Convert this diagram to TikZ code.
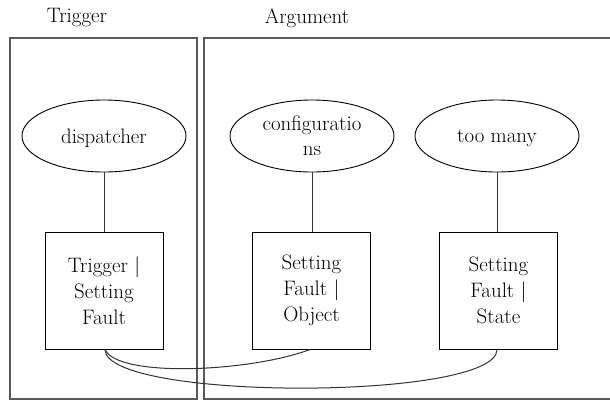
\documentclass[tikz,border=0pt]{standalone}
\usetikzlibrary{shapes.geometric}

\tikzset{
  frame/.style={draw=black!65, line width=1.6bp},
  term/.style={draw, ellipse, line width=0.9bp, inner sep=0pt,
    minimum width=164bp, minimum height=72bp, align=center,
    text depth=0pt, font=\fontsize{21}{25}\selectfont},
  slot/.style={draw, rectangle, line width=1bp, inner sep=0pt,
    minimum width=118bp, minimum height=117bp, align=center,
    font=\fontsize{21}{26}\selectfont},
  title/.style={font=\fontsize{21}{25}\selectfont, inner sep=0pt},
  link/.style={draw=black!80, line width=1bp}
}

\begin{document}
\begin{tikzpicture}[x=1bp, y=-1bp]
  \clip (0,0) rectangle (610,401);
  \fill[white] (0,0) rectangle (610,401);

  % column frames
  \draw[frame] (10,38) rectangle (197,399);
  \draw[frame] (204,38) rectangle (640,399);

  % column titles
  \node[title] (ttrig) at (77,18) {Trigger};
  \node[title] (targ)  at (307,18) {Argument};

  % phrases
  \node[term] (disp) at (104,136) {dispatcher};
  \node[term] (conf) at (312,136) {configuratio\\ns};
  \node[term] (many) at (497,136) {too many};

  % role boxes
  \node[slot] (trig)  at (104,290.5) {Trigger |\\Setting\\Fault};
  \node[slot] (obj)   at (311.5,290.5) {Setting\\Fault |\\Object};
  \node[slot] (state) at (498.5,290.5) {Setting\\Fault |\\State};

  % attachments
  \draw[link] (disp.south) -- (disp.south |- trig.north);
  \draw[link] (conf.south) -- (conf.south |- obj.north);
  \draw[link] (many.south) -- (many.south |- state.north);

  % relations between roles
  \coordinate (tb) at ([xshift=1bp]trig.south);
  \draw[link] (tb) .. controls (118,378) and (250,372) .. ([xshift=-1.5bp]obj.south);
  \draw[link] (tb) .. controls (105,401) and (497,401) .. ([xshift=-1.5bp]state.south);
\end{tikzpicture}
\end{document}
